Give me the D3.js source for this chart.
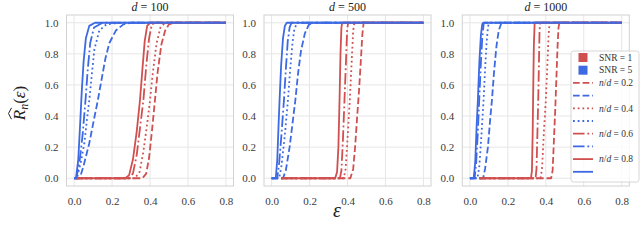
<!DOCTYPE html>
<html><head><meta charset="utf-8">
<script src="https://cdn.jsdelivr.net/npm/d3@7"></script>
<style>
body{margin:0;background:#fff;}
svg{display:block;}
</style></head>
<body><svg id="chart" width="640" height="244"></svg>
<script>
// ---------- data ----------
const dims = [100, 500, 1000];
const ratios = [0.2, 0.4, 0.6, 0.8];
const snrs = [1, 5];
const xTicks = [0, 0.2, 0.4, 0.6, 0.8];
const yTicks = [0, 0.2, 0.4, 0.6, 0.8, 1.0];

// curves: [eps, R] points, one list per n/d ratio (0.2, 0.4, 0.6, 0.8)
const d100_snr1 = [
  [[0.01,0],[0.36,0],[0.38,0.03],[0.395,0.13],[0.41,0.3],[0.426,0.5],[0.44,0.68],[0.46,0.86],[0.48,0.95],[0.50,0.99],[0.53,1],[0.8,1]],
  [[0.01,0],[0.32,0],[0.345,0.04],[0.365,0.17],[0.385,0.35],[0.40,0.5],[0.415,0.68],[0.435,0.87],[0.455,0.97],[0.48,1],[0.8,1]],
  [[0.01,0],[0.29,0],[0.31,0.03],[0.33,0.15],[0.35,0.35],[0.365,0.5],[0.38,0.72],[0.395,0.9],[0.41,0.99],[0.43,1],[0.8,1]],
  [[0.01,0],[0.27,0],[0.29,0.02],[0.31,0.12],[0.33,0.3],[0.347,0.5],[0.36,0.7],[0.372,0.88],[0.385,0.98],[0.40,1],[0.8,1]]
];
const d100_snr5 = [
  [[0,0],[0.03,0],[0.05,0.08],[0.08,0.225],[0.105,0.38],[0.125,0.5],[0.147,0.65],[0.165,0.77],[0.186,0.87],[0.22,0.95],[0.26,0.99],[0.30,1],[0.8,1]],
  [[0,0],[0.015,0],[0.035,0.1],[0.054,0.225],[0.068,0.38],[0.08,0.5],[0.092,0.65],[0.107,0.83],[0.133,0.95],[0.17,0.99],[0.24,1],[0.8,1]],
  [[0,0],[0.012,0],[0.03,0.12],[0.045,0.28],[0.06,0.5],[0.072,0.7],[0.085,0.87],[0.105,0.97],[0.15,1],[0.8,1]],
  [[0,0],[0.01,0],[0.022,0.12],[0.032,0.35],[0.04,0.55],[0.05,0.75],[0.062,0.9],[0.08,0.98],[0.11,1],[0.8,1]]
];
const d500_snr1 = [
  [[0.05,0],[0.415,0],[0.43,0.06],[0.44,0.2],[0.45,0.38],[0.46,0.55],[0.47,0.75],[0.478,0.92],[0.485,1],[0.8,1]],
  [[0.05,0],[0.38,0],[0.39,0.06],[0.40,0.25],[0.412,0.5],[0.422,0.75],[0.43,0.95],[0.436,1],[0.8,1]],
  [[0.05,0],[0.36,0],[0.368,0.05],[0.376,0.25],[0.384,0.5],[0.392,0.75],[0.398,0.95],[0.403,1],[0.8,1]],
  [[0.05,0],[0.335,0],[0.345,0.04],[0.352,0.2],[0.358,0.5],[0.363,0.8],[0.368,0.97],[0.372,1],[0.8,1]]
];
const d500_snr5 = [
  [[0,0],[0.06,0],[0.075,0.05],[0.095,0.2],[0.11,0.35],[0.125,0.5],[0.14,0.68],[0.155,0.82],[0.175,0.93],[0.195,0.985],[0.215,1],[0.8,1]],
  [[0,0],[0.04,0],[0.052,0.08],[0.07,0.28],[0.086,0.5],[0.098,0.7],[0.11,0.87],[0.12,0.96],[0.135,1],[0.8,1]],
  [[0,0],[0.03,0],[0.04,0.1],[0.052,0.28],[0.065,0.5],[0.075,0.7],[0.085,0.88],[0.095,0.97],[0.105,1],[0.8,1]],
  [[0,0],[0.022,0],[0.03,0.12],[0.037,0.35],[0.042,0.5],[0.05,0.72],[0.06,0.9],[0.07,0.98],[0.08,1],[0.8,1]]
];
const d1000_snr1 = [
  [[0.05,0],[0.428,0],[0.436,0.05],[0.443,0.25],[0.45,0.45],[0.456,0.65],[0.462,0.85],[0.467,0.97],[0.472,1],[0.8,1]],
  [[0.05,0],[0.372,0],[0.38,0.06],[0.39,0.3],[0.40,0.5],[0.408,0.72],[0.415,0.93],[0.42,1],[0.8,1]],
  [[0.05,0],[0.346,0],[0.351,0.06],[0.356,0.3],[0.36,0.5],[0.364,0.75],[0.367,0.95],[0.37,1],[0.8,1]],
  [[0.05,0],[0.322,0],[0.327,0.05],[0.331,0.3],[0.334,0.6],[0.337,0.85],[0.341,0.99],[0.344,1],[0.8,1]]
];
const d1000_snr5 = [
  [[0,0],[0.07,0],[0.08,0.06],[0.095,0.2],[0.107,0.38],[0.116,0.5],[0.127,0.68],[0.14,0.85],[0.152,0.95],[0.165,0.995],[0.17,1],[0.8,1]],
  [[0,0],[0.04,0],[0.05,0.08],[0.062,0.3],[0.072,0.5],[0.08,0.7],[0.088,0.87],[0.095,0.97],[0.1,1],[0.8,1]],
  [[0,0],[0.025,0],[0.033,0.1],[0.042,0.3],[0.049,0.5],[0.057,0.72],[0.065,0.9],[0.072,0.99],[0.077,1],[0.8,1]],
  [[0,0],[0.02,0],[0.028,0.1],[0.036,0.35],[0.042,0.5],[0.05,0.75],[0.058,0.92],[0.065,0.99],[0.07,1],[0.8,1]]
];
const curvesByDim = [
  {snr1: d100_snr1, snr5: d100_snr5},
  {snr1: d500_snr1, snr5: d500_snr5},
  {snr1: d1000_snr1, snr5: d1000_snr5}
];

// ---------- styles ----------
const RED = "#d0504f", BLUE = "#3d69e3";
const LW = 1.8;
const dashes = ["6.7,2.9", "1.8,2.9", "11.5,2.9,1.8,2.9", null];
const SERIF = "'Liberation Serif','Times New Roman',serif";

const svg = d3.select("#chart");
const panelLeft = [66.5, 264, 462.3];
const PW = 167, PT = 15, PB = 186;

panelLeft.forEach((left, pi) => {
  const x = d3.scaleLinear().domain([-0.04, 0.84]).range([left, left + PW]);
  const y = d3.scaleLinear().domain([-0.05, 1.05]).range([PB, PT]);
  const g = svg.append("g");

  // grid
  g.append("g").selectAll("line.gx").data(xTicks).join("line")
    .attr("x1", d => x(d)).attr("x2", d => x(d)).attr("y1", PT).attr("y2", PB)
    .attr("stroke", "#e6e6e6").attr("stroke-width", 1);
  g.append("g").selectAll("line.gy").data(yTicks).join("line")
    .attr("y1", d => y(d)).attr("y2", d => y(d)).attr("x1", left).attr("x2", left + PW)
    .attr("stroke", "#e6e6e6").attr("stroke-width", 1);

  // axes (no tick lines)
  const xa = g.append("g").attr("transform", `translate(0,${PB})`)
    .call(d3.axisBottom(x).tickValues(xTicks).tickFormat(d3.format(".1f")).tickSize(0).tickPadding(11));
  const ya = g.append("g").attr("transform", `translate(${left},0)`)
    .call(d3.axisLeft(y).tickValues(yTicks).tickFormat(d3.format(".1f")).tickSize(0).tickPadding(8));
  [xa, ya].forEach(a => {
    a.select(".domain").remove();
    a.selectAll("text").attr("font-family", SERIF).attr("font-size", 11).attr("fill", "#3a3a3a");
  });

  // frame
  g.append("rect").attr("x", left).attr("y", PT).attr("width", PW).attr("height", PB - PT)
    .attr("fill", "none").attr("stroke", "#d2d2d2").attr("stroke-width", 1);

  // title
  const t = g.append("text").attr("x", left + PW / 2).attr("y", 11)
    .attr("text-anchor", "middle").attr("font-family", SERIF).attr("font-size", 12).attr("fill", "#222");
  t.append("tspan").attr("font-style", "italic").text("d");
  t.append("tspan").text(" = " + dims[pi]);

  // curves
  const line = d3.line().x(d => x(d[0])).y(d => y(d[1]));
  const cs = curvesByDim[pi];
  ratios.forEach((r, i) => {
    [[cs.snr1[i], RED], [cs.snr5[i], BLUE]].forEach(([pts, col]) => {
      g.append("path").attr("d", line(pts)).attr("fill", "none")
        .attr("stroke", col).attr("stroke-width", LW)
        .attr("stroke-dasharray", dashes[i]).attr("stroke-linejoin", "round");
    });
  });
});

// x label
svg.append("text").attr("x", 337).attr("y", 217).attr("text-anchor", "middle")
  .attr("font-family", SERIF).attr("font-style", "italic").attr("font-size", 20).attr("fill", "#222").text("ε");

// y label  R-hat_n(ε)
const yl = svg.append("g").attr("transform", "translate(25,103) rotate(-90)");
const ylt = yl.append("text").attr("font-family", SERIF).attr("font-size", 17).attr("fill", "#222");
const tR = ylt.append("tspan").attr("font-style", "italic").text("R");
ylt.append("tspan").attr("font-style", "italic").attr("font-size", 12).attr("dy", 3).text("n");
ylt.append("tspan").attr("dy", -3).text("(");
ylt.append("tspan").attr("font-style", "italic").text("ε");
ylt.append("tspan").text(")");
const totalLen = ylt.node().getComputedTextLength();
ylt.attr("x", -totalLen / 2);
const rLen = ylt.node().getSubStringLength(0, 1);
const rx0 = -totalLen / 2;
yl.append("path")
  .attr("d", `M${rx0 + 1},-13.5 L${rx0 + rLen / 2 + 1.5},-16.5 L${rx0 + rLen + 2},-13.5`)
  .attr("fill", "none").attr("stroke", "#222").attr("stroke-width", 1);

// legend
const lg = svg.append("g");
lg.append("rect").attr("x", 571).attr("y", 51).attr("width", 68).attr("height", 131).attr("rx", 2.5)
  .attr("fill", "#fff").attr("fill-opacity", 0.8).attr("stroke", "#cccccc").attr("stroke-width", 0.8);
const rowY = i => 57.5 + i * 12.7;
const legText = (i, parts) => {
  const t = lg.append("text").attr("x", 599).attr("y", rowY(i) + 3.2)
    .attr("font-family", SERIF).attr("font-size", 9.5).attr("fill", "#333");
  parts.forEach(p => t.append("tspan").attr("font-style", p[1] ? "italic" : "normal").text(p[0]));
};
[[RED, snrs[0]], [BLUE, snrs[1]]].forEach(([c, s], i) => {
  lg.append("rect").attr("x", 578.5).attr("y", rowY(i) - 4.5).attr("width", 9).attr("height", 9).attr("fill", c);
  legText(i, [["SNR = " + s, false]]);
});
ratios.forEach((r, i) => {
  [RED, BLUE].forEach((c, j) => {
    const row = 2 + i * 2 + j;
    lg.append("line").attr("x1", 573).attr("x2", 593).attr("y1", rowY(row)).attr("y2", rowY(row))
      .attr("stroke", c).attr("stroke-width", LW).attr("stroke-dasharray", dashes[i]);
  });
  legText(2 + i * 2, [["n", true], ["/", false], ["d", true], [" = " + r, false]]);
});
</script></body></html>
